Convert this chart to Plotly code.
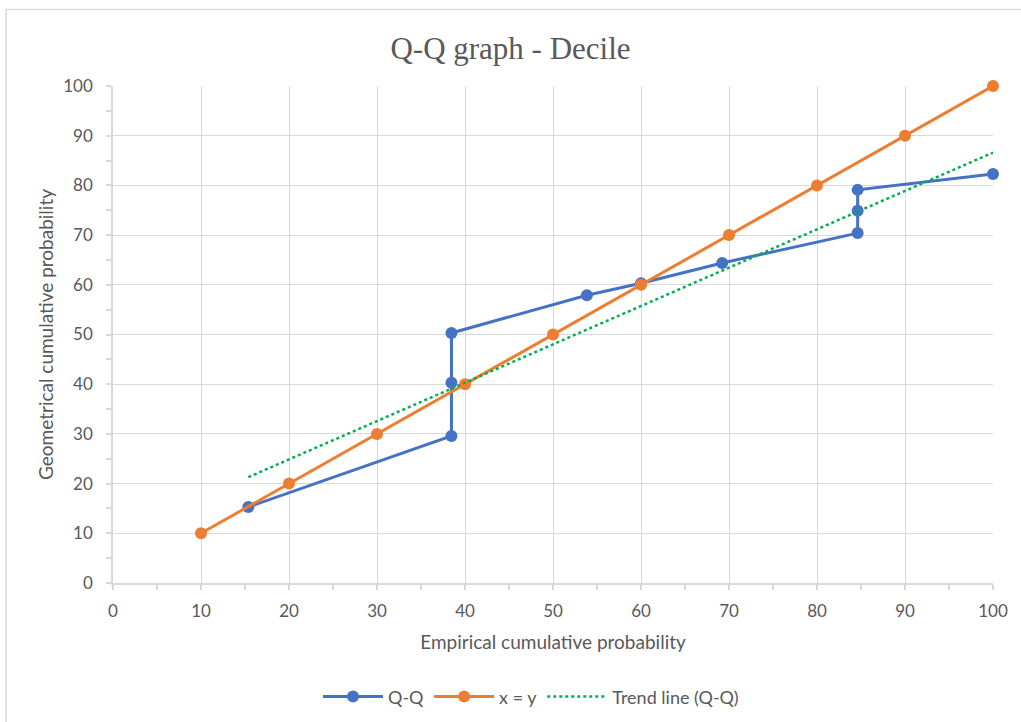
import plotly.graph_objects as go

# Q-Q points: empirical vs geometrical cumulative probability (%)
qq_x = [15.38, 38.46, 38.46, 38.46, 53.85, 60.0, 69.23, 84.62, 84.62, 84.62, 100.0]
qq_y = [15.3, 29.6, 40.3, 50.3, 57.9, 60.3, 64.4, 70.4, 74.9, 79.1, 82.3]

# Reference diagonal
ref_x = [10, 20, 30, 40, 50, 60, 70, 80, 90, 100]
ref_y = [10, 20, 30, 40, 50, 60, 70, 80, 90, 100]

# Linear trend line of the Q-Q series (end points)
trend_x = [15.38, 100.0]
trend_y = [21.3, 86.6]

tick_vals = [0, 10, 20, 30, 40, 50, 60, 70, 80, 90, 100]

BLUE = "#4472C4"
ORANGE = "#ED7D31"
GREEN = "#00B050"
GRID = "#D9D9D9"
TXT = "#595959"
FONT = "Lato, 'Open Sans', sans-serif"

fig = go.Figure()
fig.add_trace(go.Scatter(
    x=qq_x, y=qq_y, name="Q-Q", mode="lines+markers",
    line=dict(color=BLUE, width=3),
    marker=dict(color=BLUE, size=12),
    cliponaxis=False,
))
fig.add_trace(go.Scatter(
    x=ref_x, y=ref_y, name="x = y", mode="lines+markers",
    line=dict(color=ORANGE, width=3),
    marker=dict(color=ORANGE, size=12),
    cliponaxis=False,
))
fig.add_trace(go.Scatter(
    x=trend_x, y=trend_y, name="Trend line (Q-Q)", mode="lines",
    line=dict(color=GREEN, width=2.5, dash="dot"),
    cliponaxis=False,
))

axis_common = dict(
    range=[0, 100],
    tickvals=tick_vals,
    showgrid=True, gridcolor=GRID, gridwidth=1,
    zeroline=False,
    showline=True, linecolor=GRID, linewidth=1.5,
    ticks="outside", ticklen=5, tickcolor=GRID, tickwidth=1.5,
    minor=dict(dtick=5, ticks="outside", ticklen=5, tickcolor=GRID, tickwidth=1.5, showgrid=False),
    tickfont=dict(family=FONT, size=17, color=TXT),
    fixedrange=True,
)

fig.update_xaxes(
    **axis_common,
    ticklabelstandoff=7,
    title=dict(text="Empirical cumulative probability",
               font=dict(family=FONT, size=19, color=TXT), standoff=16),
)
fig.update_yaxes(
    **axis_common,
    ticklabelstandoff=10,
    title=dict(text="Geometrical cumulative probability",
               font=dict(family=FONT, size=19, color=TXT), standoff=5),
)

fig.update_layout(
    width=1021, height=722,
    margin=dict(l=113, r=28, t=86, b=139, autoexpand=False),
    paper_bgcolor="white", plot_bgcolor="white",
    title=dict(text="Q-Q graph - Decile", x=0.5, xanchor="center",
               y=1 - 48 / 722, yanchor="middle",
               font=dict(family="'Liberation Serif', 'Times New Roman', serif", size=31, color=TXT)),
    legend=dict(orientation="h", x=0.475, xanchor="center", y=-0.229, yanchor="middle",
                font=dict(family=FONT, size=18, color=TXT),
                itemwidth=60,
                traceorder="normal"),
    showlegend=True,
    shapes=[dict(type="rect", xref="paper", yref="paper",
                 x0=-107 / 880, x1=1.2, y0=-0.5, y1=(583 - 9.5) / 497,
                 line=dict(color="#D9D9D9", width=1.5), layer="below")],
)

fig.write_html("out.html")
